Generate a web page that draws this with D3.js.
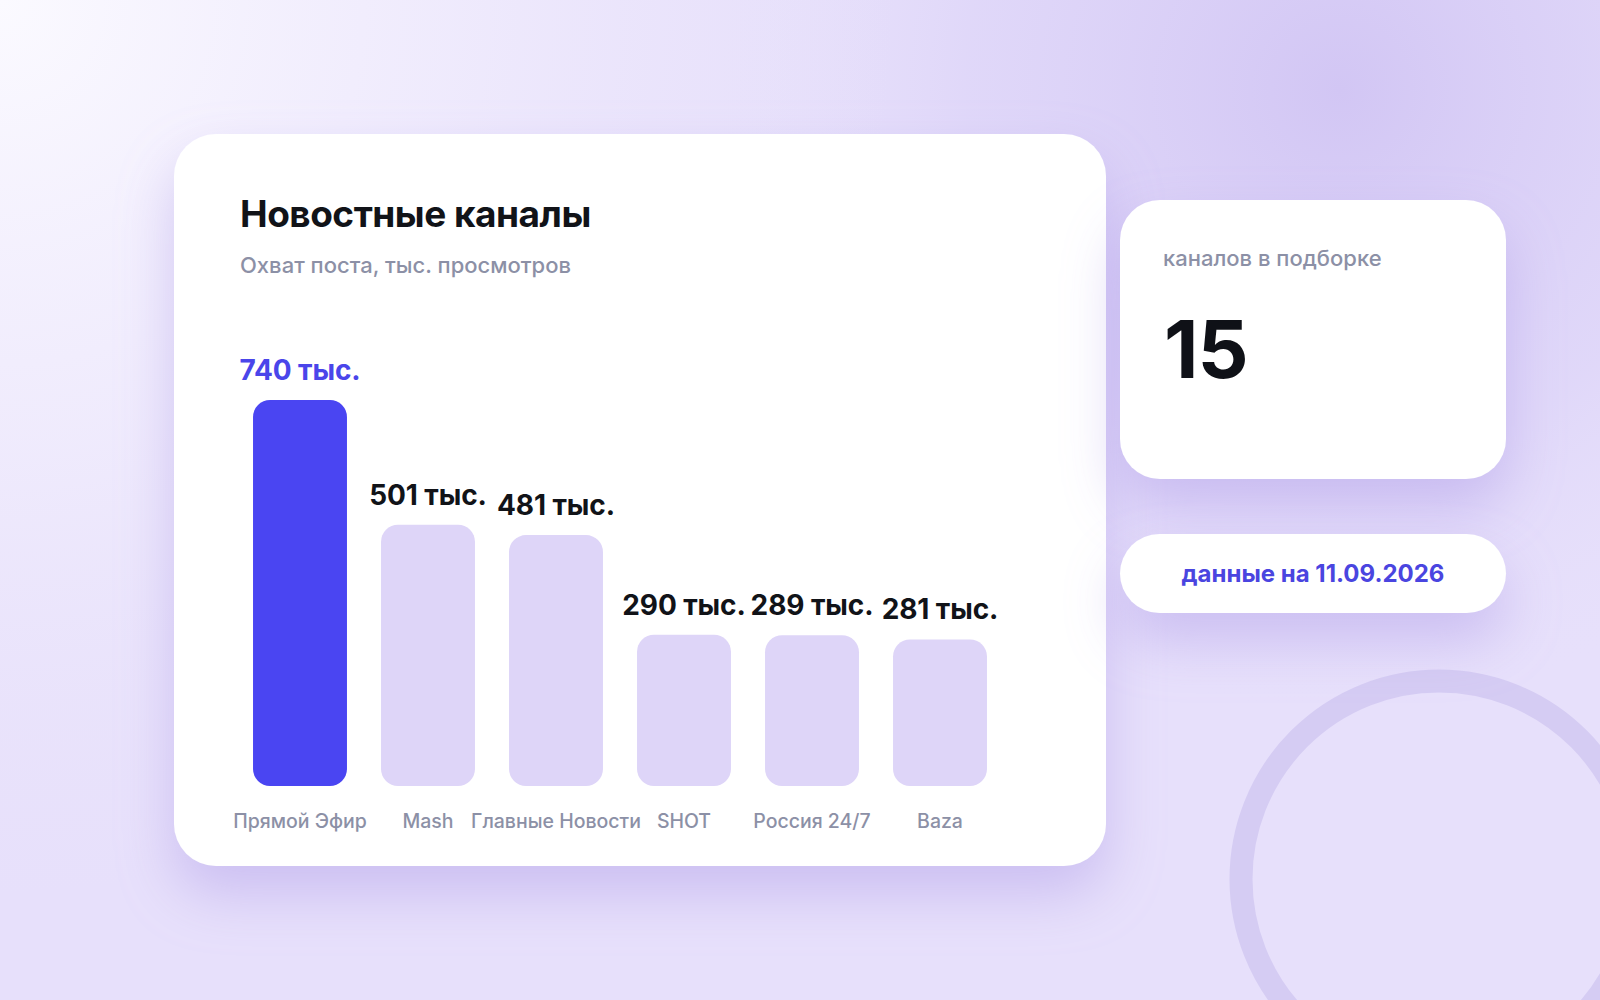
<!DOCTYPE html>
<html><head><meta charset="utf-8">
<script src="https://cdn.jsdelivr.net/npm/d3@7"></script>
<style>html,body{margin:0;padding:0;background:#ece6fb;}svg{display:block;font-family:Inter,"Liberation Sans",Arial,sans-serif;}</style>
</head><body>
<script>
const categories = ["Прямой Эфир", "Mash", "Главные Новости", "SHOT", "Россия 24/7", "Baza"];
const values = [740, 501, 481, 290, 289, 281];
const valueSuffix = " тыс.";
const highlightIndex = [0];
const titleText = "Новостные каналы";
const subtitleText = "Охват поста, тыс. просмотров";
const statLabel = "каналов в подборке";
const statValue = "15";
const dateText = "данные на 11.09.2026";

const W = 1600, H = 1000;
const svg = d3.select("body").append("svg").attr("width", W).attr("height", H);
const defs = svg.append("defs");

const rg1 = defs.append("radialGradient").attr("id","glowTR").attr("cx",1340).attr("cy",90).attr("r",620).attr("gradientUnits","userSpaceOnUse");
rg1.append("stop").attr("offset","0").attr("stop-color","#d2c6f4");
rg1.append("stop").attr("offset","0.6").attr("stop-color","#ddd4f8").attr("stop-opacity",0.7);
rg1.append("stop").attr("offset","1").attr("stop-color","#e6dffb").attr("stop-opacity",0);
const rg2 = defs.append("radialGradient").attr("id","glowTL").attr("cx",0).attr("cy",0).attr("r",900).attr("gradientUnits","userSpaceOnUse");
rg2.append("stop").attr("offset","0").attr("stop-color","#fbfaff");
rg2.append("stop").attr("offset","0.5").attr("stop-color","#f1edfd").attr("stop-opacity",0.8);
rg2.append("stop").attr("offset","1").attr("stop-color","#ebe5fb").attr("stop-opacity",0);

const sh = defs.append("filter").attr("id","shadow").attr("filterUnits","userSpaceOnUse")
  .attr("x",0).attr("y",0).attr("width",1600).attr("height",1000);
sh.append("feDropShadow").attr("dx",0).attr("dy",28).attr("stdDeviation",28).attr("flood-color","#a996e6").attr("flood-opacity",0.45);

svg.append("rect").attr("width",W).attr("height",H).attr("fill","#e7e0fb");
svg.append("rect").attr("width",W).attr("height",H).attr("fill","url(#glowTR)");
svg.append("rect").attr("width",W).attr("height",H).attr("fill","url(#glowTL)");

// decorative ring
svg.append("circle").attr("cx",1439).attr("cy",879).attr("r",198).attr("fill","none")
  .attr("stroke","#d5ccf3").attr("stroke-width",23);

// cards
svg.append("rect").attr("x",174).attr("y",134).attr("width",932).attr("height",732).attr("rx",42)
  .attr("fill","#ffffff").attr("filter","url(#shadow)");
svg.append("rect").attr("x",1120).attr("y",200).attr("width",386).attr("height",279).attr("rx",40)
  .attr("fill","#ffffff").attr("filter","url(#shadow)");
svg.append("rect").attr("x",1120).attr("y",534).attr("width",386).attr("height",79).attr("rx",39.5)
  .attr("fill","#ffffff").attr("filter","url(#shadow)");

// titles
svg.append("text").attr("x",240).attr("y",227).attr("font-size",37).attr("font-weight",700)
  .attr("fill","#111318").attr("letter-spacing",-0.5).text(titleText);
svg.append("text").attr("x",240).attr("y",273).attr("font-size",22).attr("font-weight",500)
  .attr("fill","#8c90a6").text(subtitleText);

// chart
const x = d3.scaleBand().domain(categories).range([236, 1004]).paddingInner(0.266).paddingOuter(0.133);
const y = d3.scaleLinear().domain([0, 740]).range([786, 400]);
const data = categories.map((c,i)=>({c, v: values[i], hi: highlightIndex.includes(i)}));

const g = svg.append("g");
g.selectAll("rect.bar").data(data).join("rect").attr("class","bar")
  .attr("x", d=>x(d.c)).attr("y", d=>y(d.v))
  .attr("width", x.bandwidth()).attr("height", d=>y(0)-y(d.v))
  .attr("rx",17).attr("fill", d=>d.hi ? "#4a45f2" : "#ded5f8");

g.selectAll("text.val").data(data).join("text").attr("class","val")
  .attr("x", d=>x(d.c)+x.bandwidth()/2).attr("y", d=>y(d.v)-20)
  .attr("text-anchor","middle").attr("font-size",28).attr("font-weight",700)
  .attr("letter-spacing",-0.1)
  .attr("fill", d=>d.hi ? "#4a45ea" : "#111318").text(d=>d.v + valueSuffix);

const xAxis = d3.axisBottom(x).tickSize(0).tickPadding(0);
const ax = svg.append("g").attr("transform","translate(0,814)").call(xAxis);
ax.select(".domain").remove();
ax.selectAll("text").attr("font-size",19.5).attr("font-weight",500).attr("fill","#8c90a6")
  .attr("font-family","Inter, Liberation Sans, Arial, sans-serif").attr("dy","0.71em").attr("letter-spacing",0);

// stat card
svg.append("text").attr("x",1163).attr("y",266).attr("font-size",22).attr("font-weight",500).attr("fill","#8c90a6").text(statLabel);
svg.append("text").attr("x",1164).attr("y",378).attr("font-size",80).attr("font-weight",700)
  .attr("letter-spacing",-1).attr("fill","#0f1117").text(statValue);

// date pill
svg.append("text").attr("x",1313).attr("y",582).attr("text-anchor","middle").attr("font-size",24)
  .attr("font-weight",700).attr("fill","#4a45e0").text(dateText);
</script>
</body></html>
